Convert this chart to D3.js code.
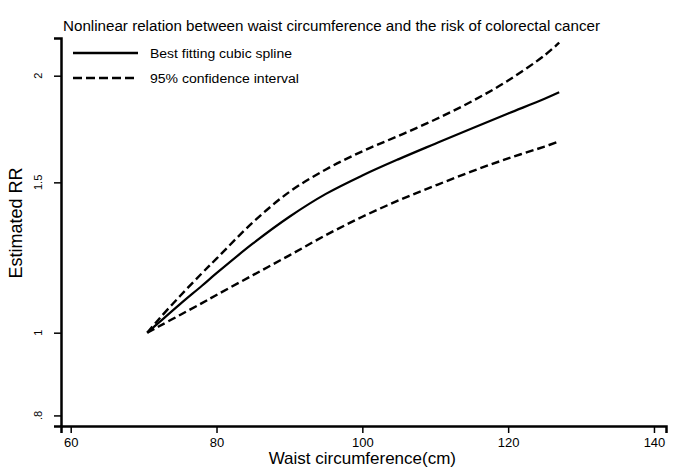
<!DOCTYPE html>
<html>
<head>
<meta charset="utf-8">
<script src="https://cdn.jsdelivr.net/npm/d3@7"></script>
<style>
body { margin: 0; background: #fff; }
svg { display: block; font-family: "Liberation Sans", Arial, sans-serif; }
</style>
</head>
<body>
<svg id="chart" width="674" height="470"></svg>
<script>
// waist circumference (cm) and estimated RR
var waist = [70.5, 72, 75, 78, 80, 85, 90, 95, 100, 105, 110, 115, 120, 125, 127];
var rrSpline = [1.00, 1.026, 1.080, 1.135, 1.174, 1.272, 1.367, 1.454, 1.528, 1.597, 1.665, 1.735, 1.806, 1.879, 1.912];
var rrUpper = [1.00, 1.035, 1.104, 1.174, 1.221, 1.347, 1.462, 1.553, 1.631, 1.701, 1.777, 1.866, 1.974, 2.113, 2.186];
var rrLower = [1.00, 1.016, 1.049, 1.083, 1.107, 1.168, 1.232, 1.301, 1.367, 1.429, 1.487, 1.545, 1.600, 1.652, 1.675];

var xTicks = [60, 80, 100, 120, 140];
var yTicks = [0.8, 1, 1.5, 2];
var yTickLabels = [".8", "1", "1.5", "2"];

var title = "Nonlinear relation between waist circumference and the risk of colorectal cancer";
var xLabel = "Waist circumference(cm)";
var yLabel = "Estimated RR";
var legendNames = ["Best fitting cubic spline", "95% confidence interval"];

var svg = d3.select("#chart");

var x = d3.scaleLinear().domain([58.67, 141.65]).range([61, 666]);
var y = d3.scaleLog().domain([0.7775, 2.214]).range([426, 38]);

// axes
var xAxis = svg.append("g")
    .attr("transform", "translate(0,426)")
    .call(d3.axisBottom(x).tickValues(xTicks).tickSizeOuter(0).tickSize(7).tickPadding(5).tickFormat(d3.format("d")));
xAxis.select(".domain").attr("stroke-width", 2.5);
xAxis.selectAll(".tick line").attr("stroke-width", 1.5);
xAxis.selectAll(".tick text").attr("font-size", 13).attr("fill", "#000");

var yAxis = svg.append("g")
    .attr("transform", "translate(61,0)")
    .call(d3.axisLeft(y).tickValues(yTicks).tickSizeOuter(0).tickSize(7).tickFormat(""));
yAxis.select(".domain").attr("stroke-width", 2.5);
yAxis.selectAll(".tick line").attr("stroke-width", 1.5);

svg.append("g").selectAll("text")
    .data(yTicks)
    .enter().append("text")
    .attr("transform", function(d) { return "translate(42," + y(d) + ") rotate(-90)"; })
    .attr("text-anchor", "middle")
    .attr("font-size", 11)
    .text(function(d, i) { return yTickLabels[i]; });

// titles
svg.append("text")
    .attr("x", 63).attr("y", 31)
    .attr("font-size", 14)
    .attr("textLength", 537).attr("lengthAdjust", "spacingAndGlyphs")
    .text(title);

svg.append("text")
    .attr("x", x(100)).attr("y", 464)
    .attr("text-anchor", "middle")
    .attr("font-size", 17)
    .text(xLabel);

svg.append("text")
    .attr("transform", "translate(21.5,223) rotate(-90)")
    .attr("text-anchor", "middle")
    .attr("font-size", 18)
    .text(yLabel);

// curves
var line = d3.line()
    .x(function(d) { return x(d[0]); })
    .y(function(d) { return y(d[1]); })
    .curve(d3.curveCatmullRom.alpha(0.5));

function pairs(vals) {
    return waist.map(function(w, i) { return [w, vals[i]]; });
}

svg.append("path")
    .attr("d", line(pairs(rrSpline)))
    .attr("fill", "none").attr("stroke", "#000").attr("stroke-width", 2.2);

[rrUpper, rrLower].map(function(vals) {
    svg.append("path")
        .attr("d", line(pairs(vals)))
        .attr("fill", "none").attr("stroke", "#000").attr("stroke-width", 2.4)
        .attr("stroke-dasharray", "8,4");
});

// legend
var legend = svg.append("g");
legendNames.map(function(name, i) {
    var ly = 53 + i * 25;
    legend.append("line")
        .attr("x1", 73).attr("x2", 138).attr("y1", ly).attr("y2", ly)
        .attr("stroke", "#000").attr("stroke-width", 2.4)
        .attr("stroke-dasharray", i == 0 ? null : "9,4");
    legend.append("text")
        .attr("x", 150).attr("y", ly + 4.5)
        .attr("font-size", 12.5)
        .attr("textLength", i == 0 ? 142 : 149).attr("lengthAdjust", "spacingAndGlyphs")
        .text(name);
});
</script>
</body>
</html>
